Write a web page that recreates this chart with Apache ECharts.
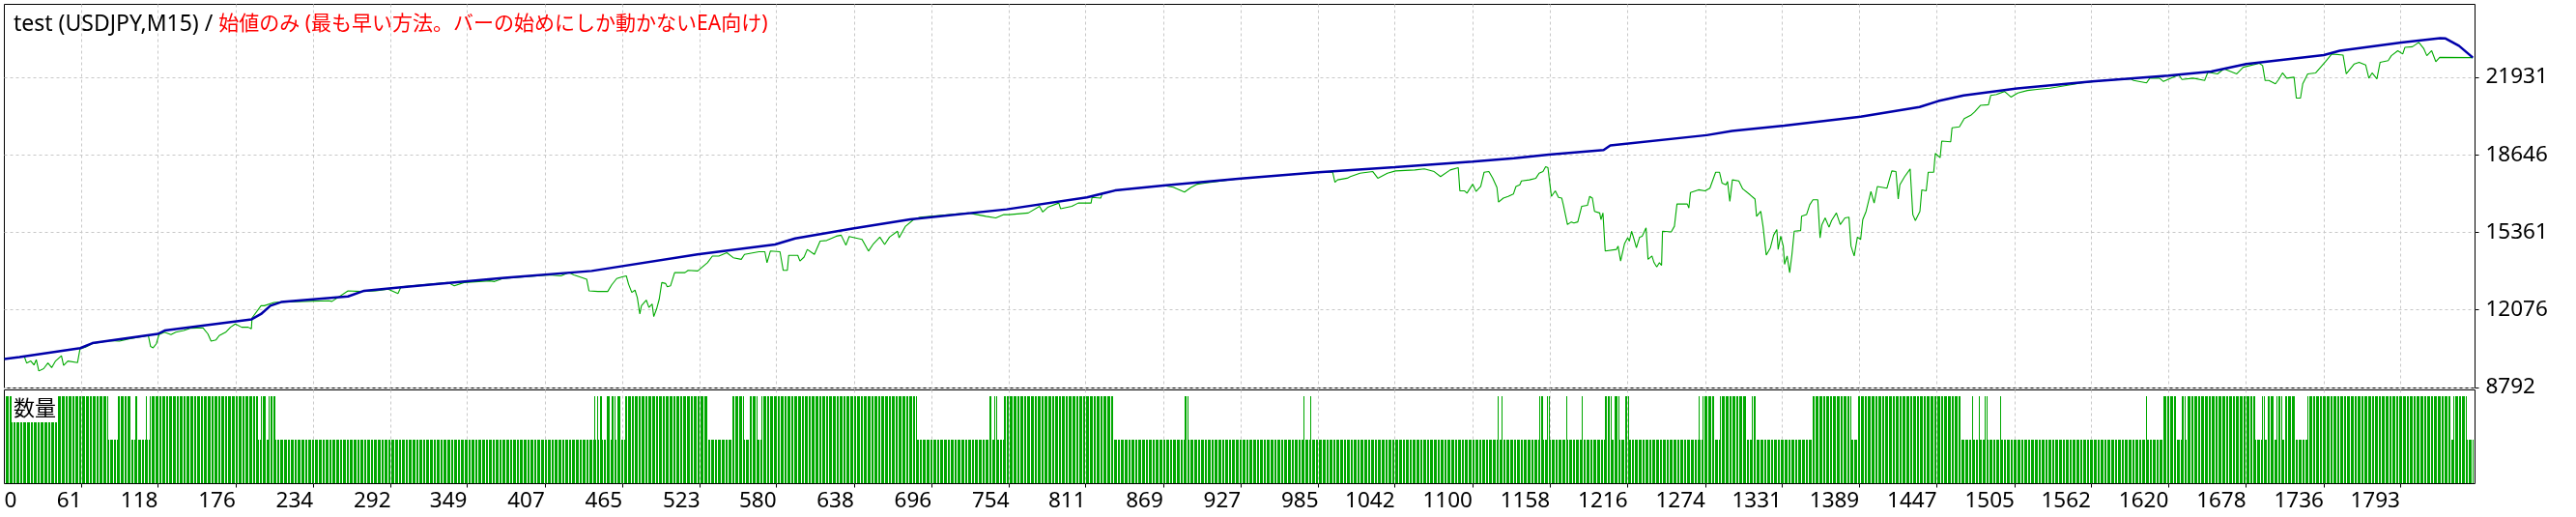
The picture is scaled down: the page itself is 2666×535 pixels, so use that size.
<!DOCTYPE html>
<html><head><meta charset="utf-8">
<script src="https://cdn.jsdelivr.net/npm/echarts@6/dist/echarts.min.js"></script>
<style>html,body{margin:0;padding:0;background:#fff}#c{width:2666px;height:535px}</style>
</head><body><div id="c"></div>
<script>
const titleName = 'test (USDJPY,M15) / ';
const titleMode = '始値のみ (最も早い方法。バーの始めにしか動かないEA向け)';
const volumeLabel = '数量';
const xFirstLabel = '0';
const xTickLabels = [61,118,176,234,292,349,407,465,523,580,638,696,754,811,869,927,985,1042,1100,1158,1216,1274,1331,1389,1447,1505,1562,1620,1678,1736,1793];
const yTickLabels = [8792,12076,15361,18646,21931];

const balance = [[3.3,10000],[14.6,10082],[60,10460],[69,10671],[118,11063],[123,11203],[188,11680],[195,11904],[202,12255],[210,12409],[260,12648],[272,12886],[298,13026],[377,13433],[442,13727],[521,14428],[579,14849],[594,15101],[637,15522],[680,15914],[752,16335],[812,16839],[826,17036],[833,17134],[869,17344],[927,17639],[985,17905],[1042,18115],[1100,18354],[1131,18494],[1157,18648],[1198,18844],[1203,19040],[1275,19475],[1294,19658],[1333,19882],[1390,20260],[1434,20667],[1448,20919],[1467,21158],[1507,21452],[1563,21746],[1620,21999],[1652,22167],[1678,22490],[1736,22868],[1748,23050],[1794,23401],[1823,23583],[1827,23569],[1837,23261],[1847.4,22756]];

const equity = [[3.3,10000],[18.2,10100],[19.9,9829],[23,9914],[25.4,9745],[27.1,9970],[29,9493],[32.6,9591],[35.8,9829],[38.6,9633],[41.5,9914],[45.9,10138],[47.5,9731],[50.7,9914],[57.9,9843],[59.8,10432],[63.9,10502],[68.7,10643],[81.9,10783],[89.2,10755],[96.4,10853],[110.8,10993],[112.5,10530],[114.4,10474],[116.8,10643],[118.8,11035],[122.9,11133],[127.7,11035],[131.3,11133],[137.3,11203],[142.1,11302],[151.7,11316],[155.3,11063],[157.7,10755],[161.4,10811],[163.8,10993],[168.6,11133],[172.2,11344],[175.8,11484],[180.6,11344],[185.4,11344],[187.8,11274],[188.3,11736],[195,12255],[197.4,12255],[204.7,12395],[209.5,12409],[245.6,12465],[248,12437],[260,12886],[269.6,12858],[281,12886],[290,12956],[297.3,12774],[299.6,13054],[334.6,13236],[339.4,13096],[346.6,13236],[365.9,13306],[369.5,13278],[375.5,13405],
[410.6,13559],[419,13517],[425,13657],[428.7,13559],[434.7,13447],[438.3,13377],[440,12886],[446.7,12858],[454,12858],[457,13138],[460.7,13405],[464.8,13475],[467.9,13517],[469.6,13166],[472,12816],[474.4,12914],[476.1,12605],[478,11904],[479.2,12255],[482.8,12493],[484.8,12185],[487.2,12325],[488.4,11792],[490.5,12115],[492.5,12535],[494.4,13236],[497.3,13194],[498.5,13054],[500.9,13096],[504,13657],[511.7,13657],[514.1,13755],[521.3,13727],[524.2,13867],[528.5,14077],[532.2,14358],[537,14358],[543,14498],[547.8,14288],[553.8,14218],[556.2,14428],[567,14540],[571.4,14540],[573,14077],[575.5,14568],[582.7,14540],[585.1,13755],[588.2,13755],[589.2,14386],[596,14386],[597.6,14148],[600.7,14316],[603.1,14638],[608.4,14428],[612.7,14989],[617.6,15017],[624.8,15199],[628.4,15241],[632,14821],[634.4,15185],[644,15059],[648.8,14568],[652.5,14877],[657.3,15157],[660.9,14849],[664.5,15157],[670.5,15409],[671.7,15129],[676.5,15620],[682.5,15900],[687.3,15998],[723.4,16181],[736.7,16040],[743.9,15970],[749.9,16111],[753.8,16111],
[768.2,16181],[776.6,16461],[779,16222],[782.7,16419],[791,16601],[792.3,16363],[800.7,16461],[805.5,16601],[815.1,16601],[815.8,16839],[822.3,16811],[823.6,17022],[826,17036],[833,17134],[869.3,17344],[876.5,17274],[884.9,17064],[889.7,17260],[894.5,17400],[900,17442],[927,17639],[985,17905],[995.6,17905],[997.3,17484],[999.2,17583],[1006.4,17653],[1008.8,17723],[1016,17863],[1025.6,17933],[1029.3,17653],[1036.5,17863],[1042.5,17961],[1057,18003],[1064.1,18045],[1071.4,17933],[1076.2,17723],[1083.4,18003],[1089.4,18101],[1090.6,17120],[1094,17120],[1095.9,17022],[1100.2,17400],[1102.7,17092],[1106.2,17302],[1108.7,17905],[1112.3,17933],[1115.2,17653],[1118.3,17260],[1119.5,16643],[1123.1,16811],[1126.7,16882],[1130.6,16980],
[1132.5,17302],[1135.4,17372],[1136.6,17540],[1142.6,17583],[1147.4,17653],[1149.8,17863],[1152.7,17933],[1154.7,18143],[1156.4,18101],[1157.5,17583],[1159,16882],[1161.9,17120],[1164.3,16839],[1166.7,16811],[1167.9,16531],[1169.1,16559],[1171,15690],[1173.9,15802],[1175.8,15760],[1178.7,15802],[1181.6,16461],[1185.9,16503],[1187.6,16882],[1189.6,16811],[1191.2,16251],[1195.1,16181],[1196,15900],[1197.5,16181],[1199.2,14568],[1207.6,14638],[1208.8,14779],[1210.7,14148],[1213.6,14877],[1216,15129],[1217.2,14989],[1218.9,15409],[1220.8,15059],[1222.5,14708],[1224.9,15157],[1226.8,15199],[1229.7,15550],[1231.2,14218],[1234.1,14358],[1235.7,14077],[1237.7,13895],[1239.7,14077],[1241.3,13965],[1242,15409],[1248.5,15381],[1250.9,15620],[1252.8,16559],[1260.5,16559],[1261.7,16391],[1262.9,17050],[1268.9,17162],[1273.8,17120],[1277.4,17232],[1281.7,17905],[1284.6,17905],[1286.5,17442],[1289.4,17372],[1290.6,17512],[1292.3,16671],[1294.2,17583],[1299,17540],[1301.9,17204],[1307.4,16952],[1311.1,16769],[1312.3,16040],[1315.4,16251],[1317.1,15620],[1319.5,14400],[1322.6,14708],[1325,15241],[1327.4,15479],[1328.4,14638],[1330.3,15199],[1332.2,14779],[1333.2,14008],[1335.1,14358],[1337,13657],[1338.7,14428],[1340.4,15409],[1345.2,15437],[1345.9,16040],[1349.6,16111],[1352,16531],[1354.4,16741],[1358,16741],[1359.7,15129],[1361.1,15690],[1363.5,15970],[1366.4,15578],[1368.3,15858],[1371.9,16181],[1374.8,15690],[1378.3,15970],[1381.3,16000],[1382.8,14779],[1385.2,14358],[1387.6,15157],[1390,15059],[1391.6,15900],[1394.1,16251],[1397.7,17092],[1400.1,16601],[1402.5,17302],[1409.7,17232],[1413.3,17961],[1416.4,17933],[1418.1,16769],[1419.3,17372],[1422.9,17723],[1427,18045],[1429,16111],[1430.9,15858],[1434.3,16251],[1435.7,17162],[1439,17120],[1440.5,17905],[1444.6,17905],[1445.8,18704],[1449.4,18522],[1450.6,19223],[1457.3,19195],[1458.3,19784],[1463.8,19826],[1467.4,20176],[1472.3,20316],[1475.1,20457],[1479.5,20737],[1485.5,20765],[1487.2,21158],[1491.5,21200],[1497.5,21326],[1502.3,21088],[1507.4,21256],
[1514.6,21368],[1521.8,21410],[1531.5,21466],[1555.5,21690],[1572.4,21789],[1591.6,21859],[1594,21789],[1603.6,21690],[1606,21887],[1613.3,21887],[1616.2,21747],[1622.9,21915],[1627.7,22027],[1630.1,21831],[1638.5,21887],[1647,21789],[1649.4,22139],[1656.6,22069],[1661.4,22280],[1671,22069],[1675.8,22350],[1687.9,22518],[1690.3,22420],[1692.2,21789],[1695,21789],[1699.9,21648],[1702.3,21831],[1705.2,22111],[1708.3,21887],[1713.8,21929],[1715.5,21045],[1718.6,21045],[1720.3,21648],[1724,22069],[1730,22111],[1733.6,22350],[1737.2,22588],[1742,22910],[1750.4,22868],[1752.8,22069],[1758.8,22490],[1762.4,22560],[1767.3,22448],[1769.7,21887],[1772.1,22111],[1775.7,21859],[1778.1,22560],[1784.1,22630],[1786.5,22840],[1791.3,23050],[1795,22910],[1796.6,23190],[1802.2,23219],[1807,23401],[1810.6,23148],[1813,22840],[1816.6,23050],[1819.7,22588],[1822.6,22770],[1847.4,22756]];

// trade ranges where the lot size is the larger one
const volumeHighRuns = [[4,80],[88,97],[101,102],[109,109],[112,192],[195,198],[201,205],[444,444],[446,446],[448,449],[453,455],[457,459],[461,463],[467,528],[547,555],[560,565],[569,684],[739,740],[743,744],[750,831],[885,887],[974,974],[979,979],[1119,1119],[1122,1122],[1150,1152],[1156,1157],[1170,1170],[1182,1182],[1199,1203],[1206,1209],[1214,1216],[1269,1269],[1272,1280],[1285,1304],[1309,1311],[1354,1382],[1388,1464],[1473,1473],[1478,1478],[1483,1484],[1494,1494],[1603,1603],[1616,1625],[1630,1632],[1634,1684],[1690,1691],[1694,1698],[1701,1704],[1707,1714],[1724,1830],[1833,1842]];
const volumeLow = 0.1, volumeHigh = 0.2;
const firstTrade = 4, lastTrade = 1847;

const xMin = 3.25, xMax = 1849;
const yMin = 8772, yMax = 25013;

const volume = [];
for (let t = firstTrade; t <= lastTrade; t++) {
  const high = volumeHighRuns.some(r => t >= r[0] && t <= r[1]);
  volume.push([t, high ? volumeHigh : volumeLow]);
}

const font = '"Noto Sans", "Noto Sans CJK JP", sans-serif';
const gridLine = {show: true, lineStyle: {color: '#c8c8c8', width: 1, type: [3, 3]}};
const chart = echarts.init(document.getElementById('c'), null, {renderer: 'canvas'});
chart.setOption({
  animation: false,
  backgroundColor: '#ffffff',
  title: [
    {left: 14, top: 11, padding: 0, z: 10,
     text: '{a|' + titleName + '}{b|' + titleMode + '}',
     textStyle: {rich: {
       a: {fontFamily: font, fontSize: 23, fontWeight: 'normal', color: '#000000', lineHeight: 28},
       b: {fontFamily: font, fontSize: 21, fontWeight: 'normal', color: '#ff0000', lineHeight: 28}
     }}},
    {left: 12, top: 410, padding: [2, 2], backgroundColor: '#ffffff', z: 10, text: volumeLabel,
     textStyle: {fontFamily: font, fontSize: 22, fontWeight: 'normal', color: '#000000', lineHeight: 23}}
  ],
  grid: [
    {left: 4.5, top: 4.5, width: 2557, height: 397, show: true, borderColor: '#000', borderWidth: 1, backgroundColor: 'transparent', outerBoundsMode: 'none', containLabel: false},
    {left: 4.5, top: 403.5, width: 2557, height: 97, show: true, borderColor: '#000', borderWidth: 1, backgroundColor: 'transparent', outerBoundsMode: 'none', containLabel: false}
  ],
  xAxis: [
    {type: 'value', gridIndex: 0, min: xMin, max: xMax,
     axisLine: {show: false}, axisLabel: {show: false},
     axisTick: {show: false, customValues: xTickLabels},
     splitLine: gridLine},
    {type: 'value', gridIndex: 1, min: xMin, max: xMax,
     axisLine: {show: false},
     axisTick: {show: true, customValues: xTickLabels, length: 4, inside: false, lineStyle: {color: '#000'}},
     axisLabel: {show: true, customValues: [xMin].concat(xTickLabels), align: 'right', alignMinLabel: 'left',
       margin: 7, fontFamily: font, fontSize: 22.5, color: '#000',
       formatter: v => (v === xMin ? xFirstLabel : String(v))},
     splitLine: gridLine}
  ],
  yAxis: [
    {type: 'value', gridIndex: 0, position: 'right', min: yMin, max: yMax,
     axisLine: {show: false},
     axisTick: {show: true, customValues: yTickLabels, length: 4, inside: false, lineStyle: {color: '#000'}},
     axisLabel: {show: true, customValues: yTickLabels, margin: 11, fontFamily: font, fontSize: 22.5, color: '#000',
       formatter: v => String(v)},
     splitLine: gridLine},
    {type: 'value', gridIndex: 1, min: 0, max: 0.2144, show: false, splitLine: {show: false}}
  ],
  series: [
    {type: 'custom', name: 'volume', xAxisIndex: 1, yAxisIndex: 1, data: volume, z: 2,
     encode: {x: 0, y: 1},
     renderItem: function (params, api) {
       const top = api.coord([api.value(0), api.value(1)]);
       const base = api.coord([api.value(0), 0]);
       const x = Math.round(top[0]);
       const y = Math.round(top[1]);
       return {type: 'rect', shape: {x: x, y: y, width: 1, height: Math.round(base[1]) - 1 - y},
               style: {fill: '#00a800'}};
     }},
    {type: 'line', name: 'equity', xAxisIndex: 0, yAxisIndex: 0, data: equity, symbol: 'none',
     lineStyle: {color: '#00aa00', width: 1.1}, z: 3},
    {type: 'line', name: 'balance', xAxisIndex: 0, yAxisIndex: 0, data: balance, symbol: 'none',
     lineStyle: {color: '#0000aa', width: 2.5}, z: 4}
  ]
});
</script></body></html>
